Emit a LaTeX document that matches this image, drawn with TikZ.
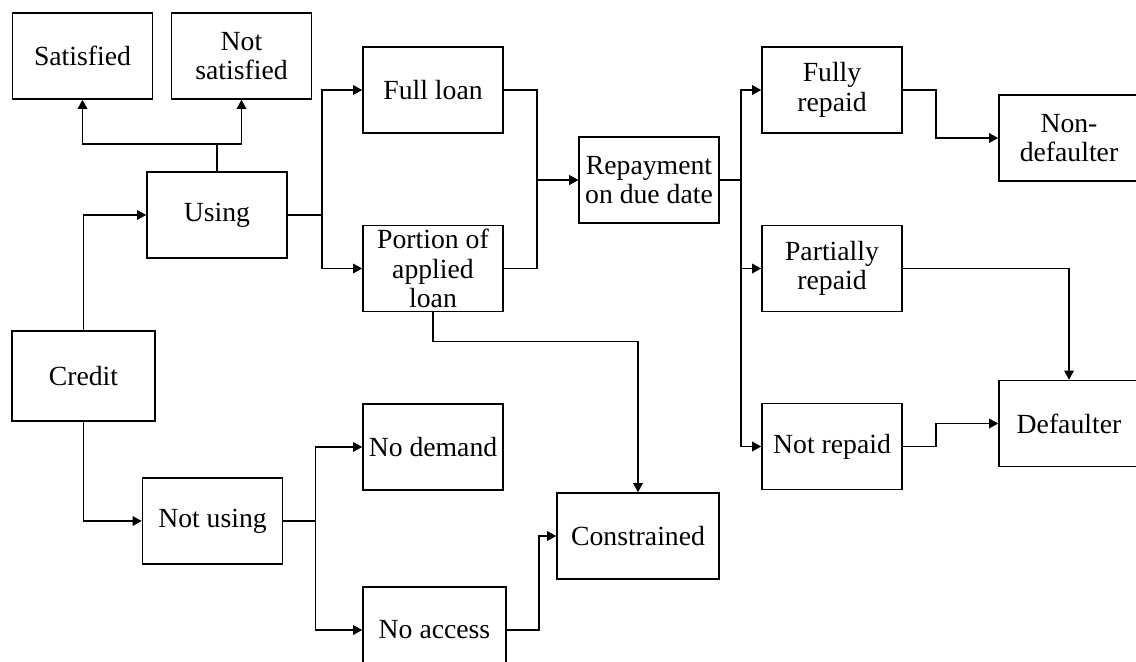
\documentclass[tikz,border=0pt]{standalone}
\usepackage{fontspec}
\setmainfont{Liberation Serif}
\usetikzlibrary{arrows.meta,calc,positioning}

\tikzset{
    box/.style={draw, line width=0.75pt, minimum width=70pt, minimum height=43pt,
        inner sep=1pt, align=center, font=\fontsize{13.85}{14.8}\selectfont},
    arr/.style={line width=0.75pt, -{Triangle[length=4.6pt,width=4.8pt]}},
    link/.style={line width=0.75pt}
}

\begin{document}
\begin{tikzpicture}[x=0.5pt, y=-0.5pt]
    \useasboundingbox (0,0) rectangle (1136,661);
    % boxes (pixel coordinates, y downwards)
    \node[box] (sat) at (82.5,56) {Satisfied};
    \node[box] (notsat) at (241.5,56) {Not\\satisfied};
    \node[box] (using) at (217,215) {Using};
    \node[box, minimum width=71.5pt, minimum height=45pt] (credit) at (83.5,376) {Credit};
    \node[box] (full) at (433,90) {Full loan};
    \node[box] (portion) at (433,268.5) {Portion of\\applied\\loan};
    \node[box] (repay) at (649,180) {Repayment\\on due date};
    \node[box] (fully) at (832,90) {Fully\\repaid};
    \node[box] (partial) at (832,268.5) {Partially\\repaid};
    \node[box] (notrep) at (832,446.5) {Not repaid};
    \node[box] (nondef) at (1069,138) {Non-\\defaulter};
    \node[box] (default) at (1069,423.5) {Defaulter};
    \node[box] (notusing) at (212.5,521) {Not using};
    \node[box] (nodem) at (433,447) {No demand};
    \node[box, minimum width=71.5pt] (noacc) at (434.5,630) {No access};
    \node[box, minimum width=81pt] (constr) at (638,536) {Constrained};
    % connectors
    \coordinate (usplit) at (217,144);
    \draw[link] (using.north) -- (usplit);
    \draw[arr] (usplit) -| (sat.south);
    \draw[arr] (usplit) -| (notsat.south);
    \draw[arr] (credit.north) |- (using.west);
    \draw[arr] (credit.south) |- (notusing.west);
    \draw[arr] (using.east) -- ++(34,0) |- (full.west);
    \draw[arr] (using.east) -- ++(34,0) |- (portion.west);
    \draw[arr] (full.east) -- ++(33,0) |- (repay.west);
    \draw[arr] (portion.east) -- ++(33,0) |- (repay.west);
    \draw[arr] (portion.south) -- ++(0,29) -| (constr.north);
    \draw[arr] (repay.east) -- ++(21,0) |- (fully.west);
    \draw[arr] (repay.east) -- ++(21,0) |- (partial.west);
    \draw[arr] (repay.east) -- ++(21,0) |- (notrep.west);
    \draw[arr] (fully.east) -- ++(33,0) |- (nondef.west);
    \draw[arr] (partial.east) -| (default.north);
    \draw[arr] (notrep.east) -- ++(33,0) |- (default.west);
    \draw[arr] (notusing.east) -- ++(32,0) |- (nodem.west);
    \draw[arr] (notusing.east) -- ++(32,0) |- (noacc.west);
    \draw[arr] (noacc.east) -- ++(32,0) |- (constr.west);
\end{tikzpicture}
\end{document}
